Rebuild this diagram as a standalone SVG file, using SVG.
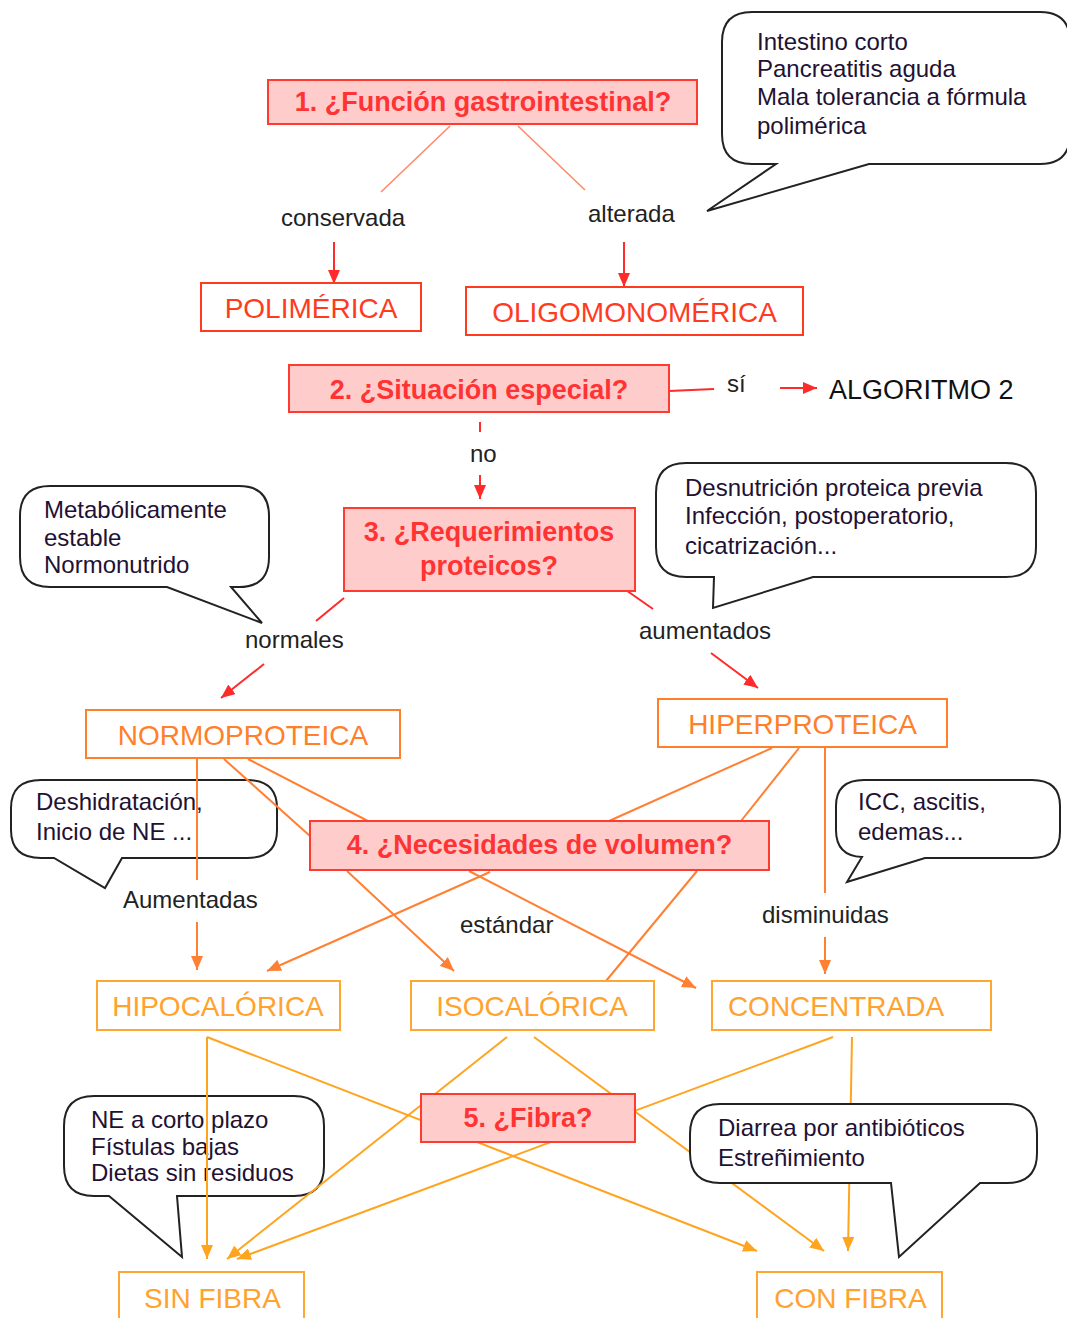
<svg xmlns="http://www.w3.org/2000/svg" width="1067" height="1318" viewBox="0 0 1067 1318">
<style>
text{font-family:"Liberation Sans",Arial,sans-serif}
.q{fill:#ffcccc;stroke:#ff3b2f;stroke-width:2}
.qt{fill:#ff3333;font-weight:bold;font-size:27px;text-anchor:middle}
.r1{fill:#fff;stroke:#ff3b1f;stroke-width:2}
.r1t{fill:#ff3b1f;font-size:28px;text-anchor:middle}
.r2{fill:#fff;stroke:#ff7f2a;stroke-width:2}
.r2t{fill:#ff7f2a;font-size:28px;text-anchor:middle}
.r3{fill:#fff;stroke:#ffa733;stroke-width:2}
.r3t{fill:#ffa22e;font-size:28px;text-anchor:middle}
.lab{fill:#222;font-size:24px}
.co{fill:#fff;stroke:#222;stroke-width:2}
.cot{fill:#221133;font-size:24px}
.lsal{stroke:#ff8a6a;stroke-width:1.6;fill:none}
.lred{stroke:#ff2a2a;stroke-width:2;fill:none}
.lor{stroke:#ff8033;stroke-width:2;fill:none}
.lyl{stroke:#ffa41f;stroke-width:2;fill:none}
</style>
<defs>
<marker id="ar" markerUnits="userSpaceOnUse" markerWidth="14" markerHeight="12" refX="14" refY="6" orient="auto"><path d="M0,0 L14,6 L0,12 Z" fill="#ff2a2a"/></marker>
<marker id="ao" markerUnits="userSpaceOnUse" markerWidth="14" markerHeight="12" refX="14" refY="6" orient="auto"><path d="M0,0 L14,6 L0,12 Z" fill="#ff8033"/></marker>
<marker id="ay" markerUnits="userSpaceOnUse" markerWidth="14" markerHeight="12" refX="14" refY="6" orient="auto"><path d="M0,0 L14,6 L0,12 Z" fill="#ffa41f"/></marker>
</defs>
<rect width="1067" height="1318" fill="#fff"/>

<g id="callout-intestino">
<path class="co" d="M752,12 H1040 Q1070,12 1070,42 V134 Q1070,164 1040,164 H869 L707,211 L776,164 H752 Q722,164 722,134 V42 Q722,12 752,12 Z"/>
<text class="cot" x="757" y="50">Intestino corto</text>
<text class="cot" x="757" y="77">Pancreatitis aguda</text>
<text class="cot" x="757" y="105">Mala tolerancia a fórmula</text>
<text class="cot" x="757" y="134">polimérica</text>
</g>
<g id="callout-metabolico">
<path class="co" d="M50,486 H239 Q269,486 269,516 V557 Q269,587 239,587 H231 L262,623 L167,587 H50 Q20,587 20,557 V516 Q20,486 50,486 Z"/>
<text class="cot" x="44" y="518">Metabólicamente</text>
<text class="cot" x="44" y="546">estable</text>
<text class="cot" x="44" y="573">Normonutrido</text>
</g>
<g id="callout-desnutricion">
<path class="co" d="M686,463 H1006 Q1036,463 1036,493 V547 Q1036,577 1006,577 H813 L713,608 L714,577 H686 Q656,577 656,547 V493 Q656,463 686,463 Z"/>
<text class="cot" x="685" y="496">Desnutrición proteica previa</text>
<text class="cot" x="685" y="524">Infección, postoperatorio,</text>
<text class="cot" x="685" y="554">cicatrización...</text>
</g>
<g id="callout-deshidratacion">
<path class="co" d="M41,780 H247 Q277,780 277,808 V830 Q277,858 247,858 H122 L105,888 L54,858 H41 Q11,858 11,830 V808 Q11,780 41,780 Z"/>
<text class="cot" x="36" y="810">Deshidratación,</text>
<text class="cot" x="36" y="840">Inicio de NE ...</text>
</g>
<g id="callout-icc">
<path class="co" d="M864,780 H1032 Q1060,780 1060,806 V832 Q1060,858 1032,858 H925 L847,882 L862,857 Q836,856 836,830 V806 Q836,780 864,780 Z"/>
<text class="cot" x="858" y="810">ICC, ascitis,</text>
<text class="cot" x="858" y="840">edemas...</text>
</g>
<g id="callout-ne">
<path class="co" d="M94,1096 H294 Q324,1096 324,1126 V1166 Q324,1196 294,1196 H177 L182,1257 L109,1196 H94 Q64,1196 64,1166 V1126 Q64,1096 94,1096 Z"/>
<text class="cot" x="91" y="1128">NE a corto plazo</text>
<text class="cot" x="91" y="1155">Fístulas bajas</text>
<text class="cot" x="91" y="1181">Dietas sin residuos</text>
</g>

<g id="connectors">
<line class="lsal" x1="450" y1="126" x2="381" y2="192"/>
<line class="lsal" x1="518" y1="126" x2="585" y2="190"/>
<line class="lred" x1="334" y1="242" x2="334" y2="284" marker-end="url(#ar)"/>
<line class="lred" x1="624" y1="242" x2="624" y2="287" marker-end="url(#ar)"/>
<line class="lred" x1="669" y1="391" x2="714" y2="389"/>
<line class="lred" x1="780" y1="388" x2="817" y2="388" marker-end="url(#ar)"/>
<line class="lred" x1="480" y1="422" x2="480" y2="432"/>
<line class="lred" x1="480" y1="475" x2="480" y2="499" marker-end="url(#ar)"/>
<line class="lred" x1="344" y1="598" x2="316" y2="621"/>
<line class="lred" x1="264" y1="664" x2="221" y2="698" marker-end="url(#ar)"/>
<line class="lred" x1="623" y1="588" x2="653" y2="609"/>
<line class="lred" x1="711" y1="653" x2="758" y2="688" marker-end="url(#ar)"/>

<line class="lor" x1="197" y1="759" x2="197" y2="880"/>
<line class="lor" x1="197" y1="922" x2="197" y2="970" marker-end="url(#ao)"/>
<line class="lor" x1="224" y1="759" x2="310" y2="836"/>
<line class="lor" x1="248" y1="759" x2="368" y2="821"/>
<line class="lor" x1="772" y1="748" x2="609" y2="821"/>
<line class="lor" x1="799" y1="748" x2="741" y2="821"/>
<line class="lor" x1="825" y1="748" x2="825" y2="893"/>
<line class="lor" x1="825" y1="937" x2="825" y2="974" marker-end="url(#ao)"/>
<line class="lor" x1="347" y1="871" x2="454" y2="971" marker-end="url(#ao)"/>
<line class="lor" x1="490" y1="872" x2="267" y2="971" marker-end="url(#ao)"/>
<line class="lor" x1="469" y1="871" x2="696" y2="988" marker-end="url(#ao)"/>
<line class="lor" x1="697" y1="871" x2="606" y2="981"/>

<line class="lyl" x1="207" y1="1037" x2="207" y2="1259" marker-end="url(#ay)"/>
<line class="lyl" x1="207" y1="1037" x2="757" y2="1251" marker-end="url(#ay)"/>
<line class="lyl" x1="507" y1="1037" x2="227" y2="1259" marker-end="url(#ay)"/>
<line class="lyl" x1="534" y1="1037" x2="824" y2="1251" marker-end="url(#ay)"/>
<line class="lyl" x1="833" y1="1037" x2="237" y2="1259" marker-end="url(#ay)"/>
<line class="lyl" x1="852" y1="1037" x2="848" y2="1251" marker-end="url(#ay)"/>
</g>

<g id="labels">
<text class="lab" x="281" y="226">conservada</text>
<text class="lab" x="588" y="222">alterada</text>
<text class="lab" x="727" y="392">sí</text>
<text class="lab" x="470" y="462">no</text>
<text class="lab" x="245" y="648">normales</text>
<text class="lab" x="639" y="639">aumentados</text>
<text class="lab" x="123" y="908">Aumentadas</text>
<text class="lab" x="460" y="933">estándar</text>
<text class="lab" x="762" y="923">disminuidas</text>
</g>

<g id="q1"><rect class="q" x="268" y="80" width="429" height="44"/><text class="qt" x="483" y="111">1. ¿Función gastrointestinal?</text></g>
<g id="polimerica"><rect class="r1" x="201" y="283" width="220" height="48"/><text class="r1t" x="311" y="318">POLIMÉRICA</text></g>
<g id="oligomonomerica"><rect class="r1" x="466" y="287" width="337" height="48"/><text class="r1t" x="634.5" y="322">OLIGOMONOMÉRICA</text></g>
<g id="q2"><rect class="q" x="289" y="365" width="380" height="47"/><text class="qt" x="479" y="399">2. ¿Situación especial?</text></g>
<g id="algoritmo2"><text x="829" y="399" font-size="27" fill="#111">ALGORITMO 2</text></g>
<g id="q3"><rect class="q" x="344" y="508" width="291" height="83"/><text class="qt" x="489" y="541">3. ¿Requerimientos</text><text class="qt" x="489" y="575">proteicos?</text></g>
<g id="normoproteica"><rect class="r2" x="86" y="710" width="314" height="48"/><text class="r2t" x="243" y="745">NORMOPROTEICA</text></g>
<g id="hiperproteica"><rect class="r2" x="658" y="699" width="289" height="48"/><text class="r2t" x="802.5" y="734">HIPERPROTEICA</text></g>
<g id="q4"><rect class="q" x="310" y="821" width="459" height="49"/><text class="qt" x="539.5" y="854">4. ¿Necesidades de volumen?</text></g>
<g id="hipocalorica"><rect class="r3" x="97" y="981" width="243" height="49"/><text class="r3t" x="218" y="1016">HIPOCALÓRICA</text></g>
<g id="isocalorica"><rect class="r3" x="411" y="981" width="243" height="49"/><text class="r3t" x="532" y="1016">ISOCALÓRICA</text></g>
<g id="concentrada"><rect class="r3" x="712" y="981" width="279" height="49"/><text class="r3t" x="836" y="1016">CONCENTRADA</text></g>
<g id="q5"><rect class="q" x="421" y="1094" width="214" height="48"/><text class="qt" x="528" y="1127">5. ¿Fibra?</text></g>
<g id="sinfibra"><rect class="r3" x="119" y="1272" width="185" height="60"/><text class="r3t" x="212.5" y="1308">SIN FIBRA</text></g>
<g id="confibra"><rect class="r3" x="757" y="1272" width="185" height="60"/><text class="r3t" x="850.5" y="1308">CON FIBRA</text></g>

<g id="callout-diarrea">
<path class="co" d="M720,1104 H1007 Q1037,1104 1037,1134 V1153 Q1037,1183 1007,1183 H980 L899,1257 L891,1183 H720 Q690,1183 690,1153 V1134 Q690,1104 720,1104 Z"/>
<text class="cot" x="718" y="1136">Diarrea por antibióticos</text>
<text class="cot" x="718" y="1166">Estreñimiento</text>
</g>
</svg>
